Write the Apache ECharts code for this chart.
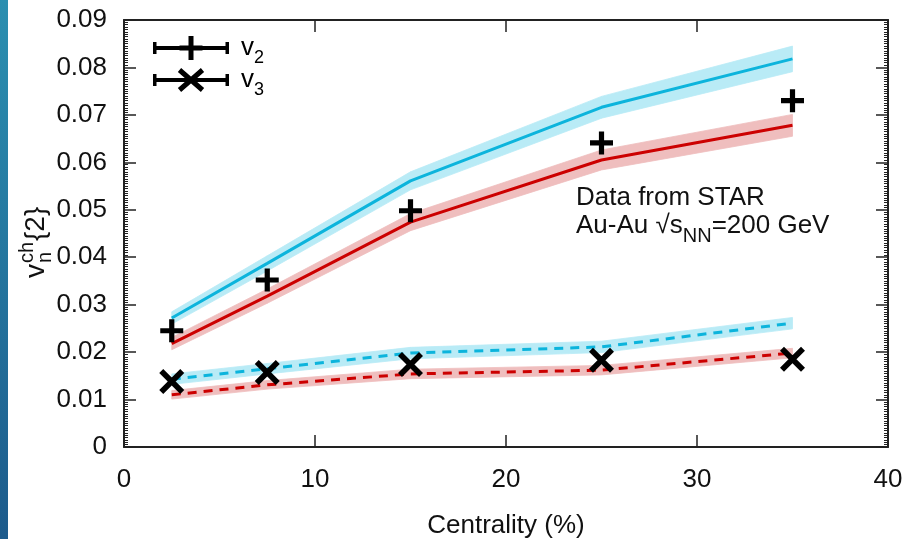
<!DOCTYPE html>
<html>
<head>
<meta charset="utf-8">
<script src="https://cdn.jsdelivr.net/npm/echarts@6/dist/echarts.min.js"></script>
<style>
html,body{margin:0;padding:0;background:#fff;}
#chart{width:912px;height:539px;}
</style>
</head>
<body>
<div id="chart"></div>
<script>
// ---- data ----
const centrality = [2.5, 7.5, 15, 25, 35];
const xTicks = [0, 10, 20, 30, 40];
const yTicks = [0, 0.01, 0.02, 0.03, 0.04, 0.05, 0.06, 0.07, 0.08, 0.09];
// STAR data points
const v2Star = [0.0245, 0.0352, 0.0498, 0.0641, 0.0730];
const v3Star = [0.0138, 0.0157, 0.0174, 0.0183, 0.0185];
// model curves (cyan / red) and their band half-widths
const v2Cyan = [0.0272, 0.0387, 0.0561, 0.0716, 0.0818];
const v2CyanErr = [0.0013, 0.0016, 0.0019, 0.0023, 0.0027];
const v2Red = [0.0218, 0.0318, 0.0474, 0.0605, 0.0678];
const v2RedErr = [0.0013, 0.0015, 0.0018, 0.0021, 0.0023];
const v3Cyan = [0.0143, 0.0165, 0.0198, 0.0211, 0.0261];
const v3CyanErr = [0.0011, 0.0011, 0.0012, 0.0012, 0.0012];
const v3Red = [0.0110, 0.0131, 0.0154, 0.0162, 0.0198];
const v3RedErr = [0.0009, 0.0009, 0.0010, 0.0010, 0.0010];

const FONT = '"Liberation Sans", Arial, sans-serif';
const CYAN = '#0cb4dc';
const RED = '#cc0000';
const CYAN_BAND = '#b9ebf6';
const RED_BAND = '#efbebe';

function pairs(ys) { return centrality.map((x, i) => [x, ys[i]]); }

function band(id, mid, err, color) {
  const segs = [];
  for (let i = 0; i < centrality.length - 1; i++) {
    segs.push([centrality[i], mid[i] - err[i], mid[i] + err[i],
               centrality[i + 1], mid[i + 1] - err[i + 1], mid[i + 1] + err[i + 1]]);
  }
  return {
    type: 'custom', name: id, silent: true, z: 1, data: segs,
    encode: { x: [0, 3], y: [1, 2, 4, 5] },
    renderItem: function (params, api) {
      const lo0 = api.coord([api.value(0), api.value(1)]);
      const hi0 = api.coord([api.value(0), api.value(2)]);
      const lo1 = api.coord([api.value(3), api.value(4)]);
      const hi1 = api.coord([api.value(3), api.value(5)]);
      return {
        type: 'polygon',
        shape: { points: [lo0, lo1, hi1, hi0] },
        style: { fill: color, stroke: color, lineWidth: 0.8 }
      };
    }
  };
}

function curve(name, ys, color, dashed) {
  return {
    type: 'line', name: name, data: pairs(ys), symbol: 'none', silent: true,
    lineStyle: { color: color, width: 3, type: dashed ? [9, 7] : 'solid' }, z: 3
  };
}

const plusPath = 'path://M-11.5,-2.6H11.5V2.6H-11.5Z M-2.6,-11.5H2.6V11.5H-2.6Z';
const crossPath = 'path://M-8.26,-12.14L12.14,8.26L8.26,12.14L-12.14,-8.26Z M12.14,-8.26L-8.26,12.14L-12.14,8.26L8.26,-12.14Z';
const legendPlus = 'path://M0,10H76V14H0Z M0,6H3.5V18H0Z M72.5,6H76V18H72.5Z M35.5,0H40.5V24H35.5Z M26.5,9.5H49.5V14.5H26.5Z';
const legendCross = 'path://M0,10H76V14H0Z M0,6H3.5V18H0Z M72.5,6H76V18H72.5Z M28.14,0.11L51.14,20.11L47.86,23.89L24.86,3.89Z M51.14,3.89L28.14,23.89L24.86,20.11L47.86,0.11Z';

const valueAxisCommon = {
  axisLine: { show: true, onZero: false, lineStyle: { color: '#222', width: 2 } },
  splitLine: { show: false }
};

const option = {
  animation: false,
  backgroundColor: '#fff',
  grid: { left: 124, right: 24, top: 20, bottom: 92, containLabel: false, outerBoundsMode: 'none' },
  legend: {
    orient: 'vertical', left: 153, top: 29, padding: 0, itemGap: -6,
    itemWidth: 76, itemHeight: 24, selectedMode: false,
    data: [{ name: 'v2', icon: legendPlus }, { name: 'v3', icon: legendCross }],
    formatter: function (n) { return '{m|v}{s|' + n.slice(1) + '}'; },
    textStyle: {
      color: '#000', fontFamily: FONT, fontSize: 26,
      rich: {
        m: { fontSize: 26, lineHeight: 26, fontFamily: FONT, color: '#000', padding: [0, 0, 0, 7] },
        s: { fontSize: 18, lineHeight: 6, fontFamily: FONT, color: '#000', padding: [20, 0, 0, 0] }
      }
    }
  },
  xAxis: [
    Object.assign({}, valueAxisCommon, {
      type: 'value', position: 'bottom', min: xTicks[0], max: xTicks[xTicks.length - 1], interval: 10,
      name: 'Centrality (%)', nameLocation: 'middle', nameGap: 66,
      nameTextStyle: { fontFamily: FONT, fontSize: 26, color: '#111' },
      axisTick: { show: true, inside: true, length: 12, lineStyle: { color: '#222', width: 1.5 } },
      axisLabel: { fontFamily: FONT, fontSize: 26, color: '#111', margin: 20 }
    }),
    Object.assign({}, valueAxisCommon, {
      type: 'value', position: 'top', min: xTicks[0], max: xTicks[xTicks.length - 1], interval: 10,
      axisTick: { show: true, inside: true, length: 12, lineStyle: { color: '#222', width: 1.5 } },
      axisLabel: { show: false }
    })
  ],
  yAxis: [
    Object.assign({}, valueAxisCommon, {
      type: 'value', position: 'left', min: yTicks[0], max: yTicks[yTicks.length - 1], interval: 0.01,
      axisTick: { show: true, inside: true, length: 12, lineStyle: { color: '#222', width: 1.5 } },
      minorTick: { show: true, splitNumber: 20, length: 4, lineStyle: { color: '#222', width: 1 } },
      axisLabel: {
        fontFamily: FONT, fontSize: 26, color: '#111', margin: 17,
        formatter: function (v) { return v === 0 ? '0' : v.toFixed(2); }
      }
    }),
    Object.assign({}, valueAxisCommon, {
      type: 'value', position: 'right', min: yTicks[0], max: yTicks[yTicks.length - 1], interval: 0.01,
      axisTick: { show: true, inside: true, length: 12, lineStyle: { color: '#222', width: 1.5 } },
      minorTick: { show: true, splitNumber: 20, length: 4, lineStyle: { color: '#222', width: 1 } },
      axisLabel: { show: false }
    })
  ],
  series: [
    band('bandV2Cyan', v2Cyan, v2CyanErr, CYAN_BAND),
    band('bandV2Red', v2Red, v2RedErr, RED_BAND),
    band('bandV3Cyan', v3Cyan, v3CyanErr, CYAN_BAND),
    band('bandV3Red', v3Red, v3RedErr, RED_BAND),
    curve('v2 model cyan', v2Cyan, CYAN, false),
    curve('v2 model red', v2Red, RED, false),
    curve('v3 model cyan', v3Cyan, CYAN, true),
    curve('v3 model red', v3Red, RED, true),
    {
      type: 'scatter', name: 'v2', data: pairs(v2Star), symbol: plusPath, symbolSize: 23,
      itemStyle: { color: '#000', opacity: 1 }, z: 5
    },
    {
      type: 'scatter', name: 'v3', data: pairs(v3Star), symbol: crossPath, symbolSize: 25,
      itemStyle: { color: '#000', opacity: 1 }, z: 5
    }
  ],
  graphic: [
    {
      type: 'rect', left: 0, top: 0, z: 10,
      shape: { x: 0, y: 0, width: 8, height: 539 },
      style: {
        fill: { type: 'linear', x: 0, y: 0, x2: 0, y2: 1,
          colorStops: [{ offset: 0, color: '#2b8fb0' }, { offset: 1, color: '#1d5b8c' }] }
      }
    },
    {
      type: 'text', x: 576, y: 183.6, z: 10,
      style: {
        text: '{m|Data from STAR}\n{m|Au-Au √s}{s|NN}{m|=200 GeV}',
        verticalAlign: 'top', align: 'left',
        rich: {
          m: { fontFamily: FONT, fontSize: 26, lineHeight: 28, fill: '#111' },
          s: { fontFamily: FONT, fontSize: 20, lineHeight: 4, fill: '#111', padding: [21, 0, 0, 0] }
        }
      }
    },
    {
      type: 'group', x: 46, y: 278, rotation: Math.PI / 2, z: 10,
      children: [
        { type: 'text', style: { text: 'v', x: 0, y: -10, font: '28px ' + FONT, fill: '#111', verticalAlign: 'middle', align: 'left' } },
        { type: 'text', style: { text: 'ch', x: 15, y: -19, font: '20px ' + FONT, fill: '#111', verticalAlign: 'middle', align: 'left' } },
        { type: 'text', style: { text: 'n', x: 15, y: -1, font: '20px ' + FONT, fill: '#111', verticalAlign: 'middle', align: 'left' } },
        { type: 'text', style: { text: '{2}', x: 37, y: -10, font: '28px ' + FONT, fill: '#111', verticalAlign: 'middle', align: 'left' } }
      ]
    }
  ]
};

const chart = echarts.init(document.getElementById('chart'), null, { renderer: 'canvas' });
chart.setOption(option);
</script>
</body>
</html>
